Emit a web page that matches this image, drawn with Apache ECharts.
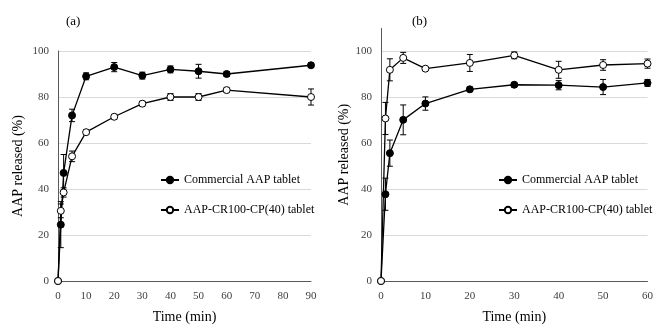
<!DOCTYPE html>
<html>
<head>
<meta charset="utf-8">
<script src="https://cdn.jsdelivr.net/npm/echarts@6/dist/echarts.min.js"></script>
<style>
  html, body { margin: 0; padding: 0; background: #fff; }
  #chart { width: 656px; height: 329px; }
</style>
</head>
<body>
<div id="chart"></div>
<script>
// Panel (a) - time points (min)
const timeA = [0, 1, 2, 5, 10, 20, 30, 40, 50, 60, 90];
const commercialA = [0, 24.5, 47, 72, 89, 93, 89.3, 92, 91.2, 90, 93.8];
const commercialErrA = [0, 10, 8, 2.7, 1.5, 2, 1.5, 1.5, 3, 1, 1];
const crA = [0, 30.5, 38.5, 54.2, 64.7, 71.4, 77.1, 80, 80, 83, 80];
const crErrA = [0, 3, 2, 2.3, 1, 1, 1, 1.5, 1.5, 1, 3.5];

// Panel (b)
const timeB = [0, 1, 2, 5, 10, 20, 30, 40, 50, 60];
const commercialB = [0, 37.8, 55.7, 70.2, 77.3, 83.5, 85.5, 85.3, 84.5, 86.3];
const commercialErrB = [0, 7, 5.7, 6.5, 2.9, 1, 1, 2, 3.3, 1.5];
const crB = [0, 70.8, 92, 97.2, 92.5, 95, 98.3, 92, 94.1, 94.7];
const crErrB = [0, 7, 4.8, 2.4, 0.5, 3.7, 1.5, 3.7, 2.3, 2];

const NAME_COM = 'Commercial AAP tablet';
const NAME_CR = 'AAP-CR100-CP(40) tablet';
const FONT = '"Liberation Serif", "DejaVu Serif", serif';

const pairs = (xs, ys) => xs.map((x, i) => [x, ys[i]]);
const triples = (xs, ys, es) => xs.map((x, i) => [x, ys[i], es[i]]);

function errorSeries(idx, data) {
  return {
    type: 'custom',
    xAxisIndex: idx,
    yAxisIndex: idx,
    silent: true,
    z: 1,
    data: data,
    renderItem: function (params, api) {
      const x = api.value(0), y = api.value(1), e = api.value(2);
      if (!e) return null;
      const hi = api.coord([x, y + e]);
      const lo = api.coord([x, y - e]);
      const w = 3;
      const style = { stroke: '#000', lineWidth: 1 };
      return {
        type: 'group',
        children: [
          { type: 'line', shape: { x1: hi[0], y1: hi[1], x2: lo[0], y2: lo[1] }, style: style },
          { type: 'line', shape: { x1: hi[0] - w, y1: hi[1], x2: hi[0] + w, y2: hi[1] }, style: style },
          { type: 'line', shape: { x1: lo[0] - w, y1: lo[1], x2: lo[0] + w, y2: lo[1] }, style: style }
        ]
      };
    }
  };
}

function lineSeries(idx, name, data, filled) {
  return {
    type: 'line',
    name: name,
    xAxisIndex: idx,
    yAxisIndex: idx,
    data: data,
    symbol: 'circle',
    symbolSize: 7,
    showAllSymbol: true,
    z: 3,
    lineStyle: { color: '#000', width: 1.3 },
    itemStyle: { color: filled ? '#000' : '#fff', borderColor: '#000', borderWidth: 1 },
    emphasis: { disabled: true }
  };
}

const axisLabel = { color: '#404040', fontFamily: FONT, fontSize: 11 };
const nameStyle = { color: '#000', fontFamily: FONT, fontSize: 14 };

function xAxis(idx, max) {
  return {
    type: 'value', gridIndex: idx, min: 0, max: max, interval: 10,
    name: 'Time (min)', nameLocation: 'middle', nameGap: 29, nameTextStyle: nameStyle,
    axisLine: { lineStyle: { color: '#595959', width: 1 } },
    axisTick: { show: false },
    splitLine: { show: false },
    axisLabel: Object.assign({ margin: 10 }, axisLabel)
  };
}

function yAxis(idx, max, gap) {
  return {
    type: 'value', gridIndex: idx, min: 0, max: max, interval: 20,
    name: 'AAP released (%)', nameLocation: 'middle', nameGap: gap, nameTextStyle: nameStyle,
    axisLine: { show: true, lineStyle: { color: '#595959', width: 1 } },
    axisTick: { show: false },
    splitLine: { show: true, showMinLine: false, showMaxLine: max === 100, lineStyle: { color: '#d9d9d9', width: 1 } },
    axisLabel: Object.assign({ margin: 9, showMaxLabel: max === 100 }, axisLabel)
  };
}

function legend(left) {
  return {
    left: left, top: 174, orient: 'vertical', itemGap: 18, padding: 0,
    itemWidth: 18, itemHeight: 8,
    textStyle: { color: '#000', fontFamily: FONT, fontSize: 12 },
    data: [NAME_COM, NAME_CR],
    selectedMode: false
  };
}

const chart = echarts.init(document.getElementById('chart'), null, { renderer: 'canvas' });
chart.setOption({
  animation: false,
  backgroundColor: '#fff',
  title: [
    { text: '(a)', left: 61, top: 10, textStyle: { color: '#000', fontFamily: FONT, fontSize: 13, fontWeight: 'normal' } },
    { text: '(b)', left: 407, top: 10, textStyle: { color: '#000', fontFamily: FONT, fontSize: 13, fontWeight: 'normal' } }
  ],
  legend: [legend(160), legend(498)],
  grid: [
    { left: 58, right: 345, top: 51, bottom: 46 },
    { left: 381, right: 6, top: 28.5, bottom: 46 }
  ],
  xAxis: [xAxis(0, 90), xAxis(1, 60)],
  yAxis: [yAxis(0, 100, 33), yAxis(1, 110, 29)],
  series: [
    errorSeries(0, triples(timeA, commercialA, commercialErrA)),
    errorSeries(0, triples(timeA, crA, crErrA)),
    lineSeries(0, NAME_COM, pairs(timeA, commercialA), true),
    lineSeries(0, NAME_CR, pairs(timeA, crA), false),
    errorSeries(1, triples(timeB, commercialB, commercialErrB)),
    errorSeries(1, triples(timeB, crB, crErrB)),
    lineSeries(1, NAME_COM, pairs(timeB, commercialB), true),
    lineSeries(1, NAME_CR, pairs(timeB, crB), false)
  ]
});
</script>
</body>
</html>
